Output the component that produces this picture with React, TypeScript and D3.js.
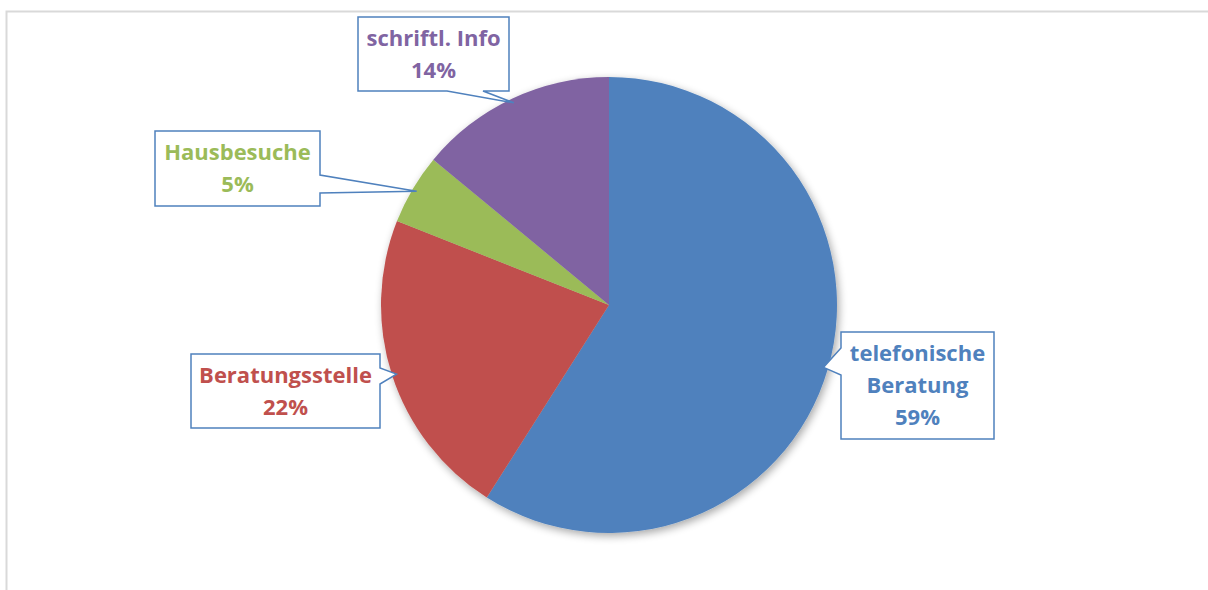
import React from "react";
import * as d3 from "d3";

const categories = ["telefonische Beratung", "Beratungsstelle", "Hausbesuche", "schriftl. Info"];
const values = [59, 22, 5, 14];
const labelLines = [["telefonische", "Beratung"], ["Beratungsstelle"], ["Hausbesuche"], ["schriftl. Info"]];
const colors = ["#4F81BD", "#C0504D", "#9BBB59", "#8064A2"];

// layout of callout boxes: [x0, y0, x1, y1, side]
const boxes: [number, number, number, number, string][] = [
  [841, 332, 994, 439, "left"],
  [191, 354, 380, 428, "right"],
  [155, 131, 320, 206, "right"],
  [358, 17, 509, 91, "bottom"],
];

const W = 1208, H = 590;
const cx = 609, cy = 305, R = 228;

export default function App() {
  const pie = d3.pie<number>().sort(null).value((d) => d)(values);
  const arc = d3.arc<d3.PieArcDatum<number>>().innerRadius(0).outerRadius(R);
  const total = d3.sum(values);
  const font = "'Open Sans', sans-serif";

  const callout = (i: number) => {
    const [x0, y0, x1, y1, side] = boxes[i];
    const a = (pie[i].startAngle + pie[i].endAngle) / 2;
    const tx = cx + R * 0.98 * Math.sin(a);
    const ty = cy - R * 0.98 * Math.cos(a);
    let pts: [number, number][] = [];
    if (side === "left") {
      const b1 = y0 + 16, b2 = y0 + 43;
      pts = [[x0, y0], [x1, y0], [x1, y1], [x0, y1], [x0, b2], [tx, ty], [x0, b1]];
    } else if (side === "right") {
      const b1 = y0 + 14, b2 = y0 + 30;
      const hb = i === 2 ? [y0 + 44, y0 + 62] : [b1, b2];
      pts = [[x0, y0], [x1, y0], [x1, hb[0]], [tx, ty], [x1, hb[1]], [x1, y1], [x0, y1]];
    } else {
      pts = [[x0, y0], [x1, y0], [x1, y1], [483, y1], [tx, ty], [447, y1], [x0, y1]];
    }
    const lines = [...labelLines[i], `${Math.round((values[i] / total) * 100)}%`];
    const midX = (x0 + x1) / 2;
    const lh = 32;
    const startY = (y0 + y1) / 2 - ((lines.length - 1) * lh) / 2;
    return (
      <g key={categories[i]}>
        <path d={d3.line()(pts) + "Z"} fill="#fff" stroke="#4F81BD" strokeWidth={1.5} />
        {lines.map((l, k) => (
          <text
            key={k}
            x={midX}
            y={startY + k * lh}
            dy="0.36em"
            textAnchor="middle"
            fontFamily={font}
            fontWeight={700}
            fontSize={22}
            fill={colors[i]}
          >
            {l}
          </text>
        ))}
      </g>
    );
  };

  return (
    <svg width={W} height={H} style={{ position: "absolute", left: 0, top: 0, background: "#fff" }}>
      <defs>
        <filter id="sh" x="-20%" y="-20%" width="140%" height="140%">
          <feGaussianBlur in="SourceAlpha" stdDeviation="4" />
          <feOffset dx="2" dy="3" result="b" />
          <feComponentTransfer>
            <feFuncA type="linear" slope="0.35" />
          </feComponentTransfer>
          <feMerge>
            <feMergeNode />
            <feMergeNode in="SourceGraphic" />
          </feMerge>
        </filter>
      </defs>
      <path d={`M6.5,${H} V11.5 H${W}`} fill="none" stroke="#d9d9d9" strokeWidth={2} />
      <g transform={`translate(${cx},${cy})`} filter="url(#sh)">
        {pie.map((p, i) => (
          <path key={categories[i]} d={arc(p) || ""} fill={colors[i]} />
        ))}
      </g>
      {pie.map((_, i) => callout(i))}
    </svg>
  );
}
